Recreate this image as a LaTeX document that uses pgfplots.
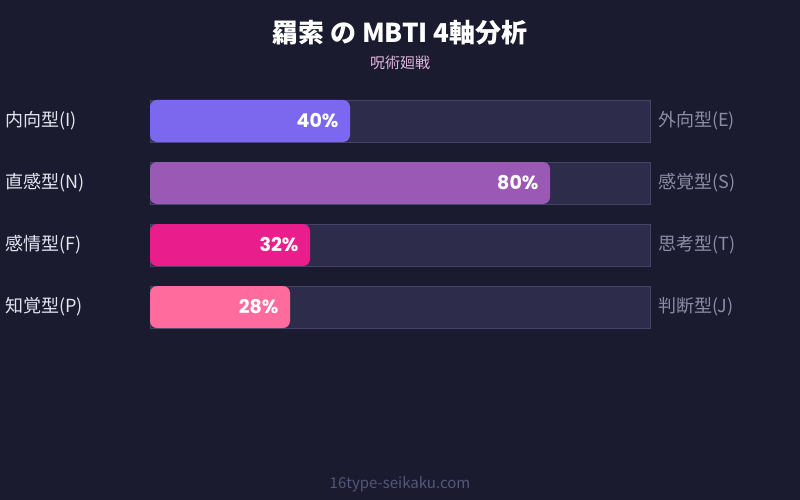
\documentclass[border=0pt]{standalone}
\usepackage{fontspec}
\setmainfont{Noto Sans CJK JP}
\newfontfamily\pop{Poppins}
\usepackage{pgfplots}
\pgfplotsset{compat=1.18}
\definecolor{bg}{HTML}{1A1B2E}
\definecolor{track}{HTML}{2D2C4A}
\definecolor{trackline}{HTML}{44446A}
\definecolor{cA}{HTML}{7B68EE}
\definecolor{cB}{HTML}{9B59B6}
\definecolor{cC}{HTML}{E91E8C}
\definecolor{cD}{HTML}{FF6B9D}
\definecolor{lefttxt}{HTML}{E4E4F0}
\definecolor{righttxt}{HTML}{8C8CA3}
\definecolor{subtxt}{HTML}{E0B4E0}
\definecolor{foot}{HTML}{55567A}
\begin{document}
\begin{tikzpicture}
\fill[bg] (0pt,0pt) rectangle (800pt,-500pt);
\node[text=white,font=\fontsize{26}{30}\selectfont\bfseries] at (400pt,-33pt) {羂索 の MBTI 4軸分析};
\node[text=subtxt,font=\fontsize{15}{18}\selectfont] at (400pt,-63pt) {呪術廻戦};
\node[text=foot,font=\fontsize{15}{18}\selectfont] at (400pt,-484pt) {16type-seikaku.com};
\begin{axis}[
  at={(150pt,-350pt)}, anchor=south west,
  scale only axis, width=500pt, height=270pt,
  xmin=0, xmax=100, ymin=-350, ymax=-80,
  axis lines=none, clip=false,
  /pgf/number format/assume math mode=true,
  xbar, bar width=42, bar shift=0pt,
  nodes near coords={\pgfmathprintnumber{\pgfplotspointmeta}\%},
  nodes near coords style={anchor=east, xshift=-8pt, text=white, font=\pop\fontsize{19}{22}\selectfont\bfseries},
]
\addplot[fill=track, draw=trackline, line width=0.6pt, nodes near coords={}] coordinates {(100,-121) (100,-183) (100,-245) (100,-307)};
\addplot[fill=cA, draw=none, rounded corners=7pt] coordinates {(40,-121)};
\addplot[fill=cB, draw=none, rounded corners=7pt] coordinates {(80,-183)};
\addplot[fill=cC, draw=none, rounded corners=7pt] coordinates {(32,-245)};
\addplot[fill=cD, draw=none, rounded corners=7pt] coordinates {(28,-307)};
\foreach \y/\l/\r in {-121/内向型(I)/外向型(E), -183/直感型(N)/感覚型(S), -245/感情型(F)/思考型(T), -307/知覚型(P)/判断型(J)} {
  \edef\tmp{\noexpand\node[anchor=west, text=lefttxt, font=\noexpand\fontsize{18}{21}\noexpand\selectfont, inner sep=0pt] at (axis cs:-29,\y) {\l};
  \noexpand\node[anchor=west, text=righttxt, font=\noexpand\fontsize{18}{21}\noexpand\selectfont, inner sep=0pt] at (axis cs:101.6,\y) {\r};}
  \tmp
}
\end{axis}
\end{tikzpicture}
\end{document}
